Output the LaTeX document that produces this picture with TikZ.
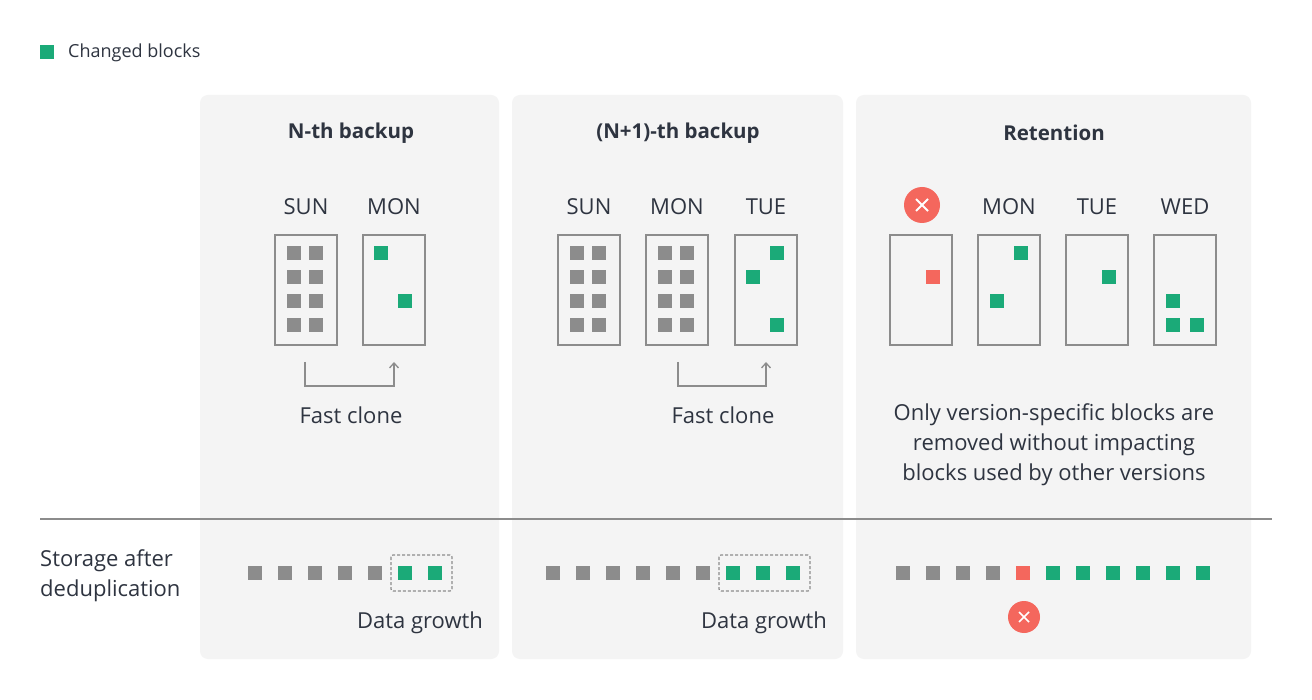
\documentclass[tikz,border=0pt]{standalone}
\usepackage{fontspec}
\setmainfont{Open Sans}
\usetikzlibrary{arrows.meta}
\definecolor{grn}{HTML}{1BAA78}
\definecolor{gry}{HTML}{8C8C8C}
\definecolor{rd}{HTML}{F4675D}
\definecolor{pan}{HTML}{F4F4F4}
\definecolor{txt}{HTML}{2E3440}
\begin{document}
\begin{tikzpicture}[x=1pt,y=-1pt,
  panel/.style={fill=pan,draw=none,rounded corners=8pt},
  box/.style={draw=gry,line width=1.3pt},
  blk/.style={minimum size=14pt,inner sep=0pt,anchor=north west},
  g/.style={blk,fill=gry}, gr/.style={blk,fill=grn}, r/.style={blk,fill=rd},
  t/.style={text=txt,font=\fontsize{22}{26}\selectfont},
  tb/.style={text=txt,font=\fontsize{20.5}{24}\selectfont\bfseries},
  arr/.style={draw=gry,line width=1.3pt,-{Straight Barb[length=5pt,width=9pt]}},
  dsh/.style={draw=gry,line width=1.2pt,dash pattern=on 3pt off 2pt}]
\useasboundingbox (0,0) rectangle (1312,700);
\fill[white] (0,0) rectangle (1312,700);
\node[gr] (leg) at (40,45) {};
\node[t,anchor=west,inner sep=0pt,font=\fontsize{18}{20}\selectfont] (legt) at (68,53) {Changed blocks};
\path[panel] (200,95) rectangle (499,659);
\path[panel] (512,95) rectangle (843,659);
\path[panel] (856,95) rectangle (1251,659);
\node[tb] (t1) at (351,133) {N-th backup};
\node[tb] (t2) at (678,133) {(N+1)-th backup};
\node[tb] (t3) at (1054,133) {Retention};
% panel 1
\foreach \n/\x/\d in {a1/275/SUN,a2/363/MON}{
  \draw[box] (\x,235) rectangle (\x+62,345);
  \node[t] (\n) at (\x+31,207) {\d};}
\foreach \x in {287,309} \foreach \y in {246,270,294,318} \node[g] at (\x,\y) {};
\node[gr] at (374,246) {}; \node[gr] at (398,294) {};
\coordinate (c1) at (305,362); \coordinate (c2) at (394,362);
\draw[arr] (c1) |- (350,386) -| (c2);
\node[t] (fc1) at (351,415) {Fast clone};
% panel 2
\foreach \n/\x/\d in {b1/558/SUN,b2/646/MON,b3/735/TUE}{
  \draw[box] (\x,235) rectangle (\x+62,345);
  \node[t] (\n) at (\x+31,207) {\d};}
\foreach \x in {570,592,658,680} \foreach \y in {246,270,294,318} \node[g] at (\x,\y) {};
\node[gr] at (770,246) {}; \node[gr] at (746,270) {}; \node[gr] at (770,318) {};
\coordinate (d1) at (678,362); \coordinate (d2) at (766,362);
\draw[arr] (d1) |- (720,386) -| (d2);
\node[t] (fc2) at (723,415) {Fast clone};
% panel 3
\foreach \n/\x/\d in {e2/978/MON,e3/1066/TUE,e4/1154/WED}{
  \node[t] (\n) at (\x+31,207) {\d};}
\foreach \x in {890,978,1066,1154} \draw[box] (\x,235) rectangle (\x+62,345);
\node[circle,fill=rd,minimum size=36pt,inner sep=0pt] (x1) at (922,205) {};
\draw[white,line width=1.8pt] ([shift={(-6,-6)}]x1.center) -- ([shift={(6,6)}]x1.center) ([shift={(-6,6)}]x1.center) -- ([shift={(6,-6)}]x1.center);
\node[r] at (926,270) {};
\node[gr] at (1014,246) {}; \node[gr] at (990,294) {};
\node[gr] at (1102,270) {};
\node[gr] at (1166,294) {}; \node[gr] at (1166,318) {}; \node[gr] at (1190,318) {};
\node[t,align=center,font=\fontsize{22}{30}\selectfont] (note) at (1054,445) {Only version-specific blocks are\\removed without impacting\\blocks used by other versions};
% divider
\coordinate (l1) at (40,519); \coordinate (l2) at (1272,519);
\draw[gry,line width=1.2pt] (l1) -- (l2);
\node[t,anchor=west,align=left,inner sep=0pt,font=\fontsize{22}{30}\selectfont] (sad) at (40,576) {Storage after\\deduplication};
% storage
\foreach \x in {248,278,308,338,368} \node[g] at (\x,566) {};
\foreach \x in {398,428} \node[gr] at (\x,566) {};
\draw[dsh,rounded corners=2pt] (391,555) rectangle (452,591);
\node[t] (dg1) at (420,623) {Data growth};
\foreach \x in {546,576,606,636,666,696} \node[g] at (\x,566) {};
\foreach \x in {726,756,786} \node[gr] at (\x,566) {};
\draw[dsh,rounded corners=2pt] (719,555) rectangle (810,591);
\node[t] (dg2) at (764,623) {Data growth};
\foreach \x in {896,926,956,986} \node[g] at (\x,566) {};
\node[r] at (1016,566) {};
\foreach \x in {1046,1076,1106,1136,1166,1196} \node[gr] at (\x,566) {};
\node[circle,fill=rd,minimum size=32pt,inner sep=0pt] (x2) at (1024,617) {};
\draw[white,line width=1.6pt] ([shift={(-5,-5)}]x2.center) -- ([shift={(5,5)}]x2.center) ([shift={(-5,5)}]x2.center) -- ([shift={(5,-5)}]x2.center);
\end{tikzpicture}
\end{document}
